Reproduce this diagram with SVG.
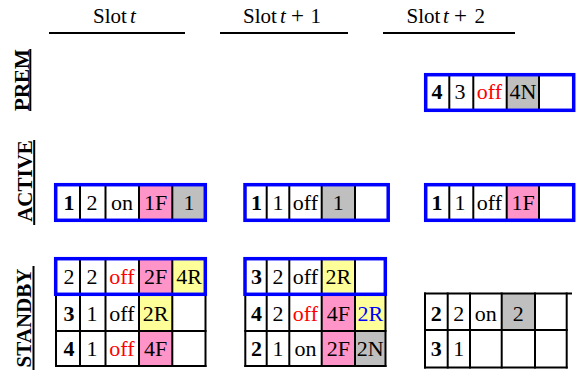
<svg xmlns="http://www.w3.org/2000/svg" width="581" height="370" viewBox="0 0 581 370">
<style>
text{font-family:"Liberation Serif","Times New Roman",serif;fill:#000}
.c{font-size:22px;text-anchor:middle}
.b{font-weight:bold}
.r{fill:#ff0000}
.bl{fill:#0000ff}
.h{font-size:21px}
.m{font-style:italic}
.lab{font-size:21px;font-weight:bold;text-anchor:middle}
.ul{stroke:#000;stroke-width:2}
.g{stroke:#000;stroke-width:2;fill:none}
.box{stroke:#0000ff;stroke-width:3.5;fill:none}
.pk{fill:#ff94c9}
.yl{fill:#ffff99}
.gy{fill:#bfbfbf}
</style>
<rect width="581" height="370" fill="#fff"/>
<g id="headers">
<text class="h" x="93" y="23">Slot<tspan class="m" x="130">t</tspan></text>
<line class="ul" x1="49" y1="33" x2="185" y2="33"/>
<text class="h" x="243" y="23">Slot<tspan class="m" x="280">t</tspan><tspan x="291" font-size="23">+</tspan><tspan x="310.5">1</tspan></text>
<line class="ul" x1="220" y1="33" x2="348" y2="33"/>
<text class="h" x="406.5" y="23">Slot<tspan class="m" x="443">t</tspan><tspan x="454" font-size="23">+</tspan><tspan x="474.5">2</tspan></text>
<line class="ul" x1="383" y1="33" x2="515" y2="33"/>
</g>
<g id="row-labels">
<text class="lab" transform="rotate(-90 28.5 80)" x="28.5" y="80">PREM</text>
<line class="ul" x1="30.3" y1="49" x2="30.3" y2="111"/>
<text class="lab" transform="rotate(-90 32 181)" x="32" y="181">ACTIVE</text>
<line class="ul" x1="34.2" y1="140" x2="34.2" y2="225"/>
<text class="lab" transform="rotate(-90 30.8 318)" x="30.8" y="318">STANDBY</text>
<line class="ul" x1="33.5" y1="266" x2="33.5" y2="370"/>
</g>
<g id="prem-t2">
<rect class="gy" x="506.7" y="75" width="32.3" height="35"/>
<line class="g" x1="449.3" y1="75" x2="449.3" y2="110"/>
<line class="g" x1="473.3" y1="75" x2="473.3" y2="110"/>
<line class="g" x1="506.7" y1="75" x2="506.7" y2="110"/>
<line class="g" x1="539" y1="75" x2="539" y2="110"/>
<rect class="box" x="425.7" y="74.7" width="148" height="35.6"/>
<text class="c b" x="437" y="99">4</text>
<text class="c" x="460" y="99">3</text>
<text class="c r" x="489.5" y="99">off</text>
<text class="c" x="523" y="99">4N</text>
</g>
<g id="active-t">
<rect class="pk" x="139" y="185" width="33.3" height="35"/>
<rect class="gy" x="172.3" y="185" width="33" height="35"/>
<line class="g" x1="80" y1="185" x2="80" y2="220"/>
<line class="g" x1="105.5" y1="185" x2="105.5" y2="220"/>
<line class="g" x1="139" y1="185" x2="139" y2="220"/>
<line class="g" x1="172.3" y1="185" x2="172.3" y2="220"/>
<rect class="box" x="55.7" y="184.7" width="149.6" height="35.6"/>
<text class="c b" x="69" y="210">1</text>
<text class="c" x="92" y="210">2</text>
<text class="c" x="122" y="210">on</text>
<text class="c" x="155.5" y="210">1F</text>
<text class="c" x="189" y="210">1</text>
</g>
<g id="active-t1">
<rect class="gy" x="321.7" y="185" width="33.3" height="35"/>
<line class="g" x1="266.7" y1="185" x2="266.7" y2="220"/>
<line class="g" x1="289.3" y1="185" x2="289.3" y2="220"/>
<line class="g" x1="321.7" y1="185" x2="321.7" y2="220"/>
<line class="g" x1="355" y1="185" x2="355" y2="220"/>
<rect class="box" x="245" y="184.7" width="143.2" height="35.6"/>
<text class="c b" x="256.5" y="210">1</text>
<text class="c" x="278" y="210">1</text>
<text class="c" x="305.5" y="210">off</text>
<text class="c" x="338.3" y="210">1</text>
</g>
<g id="active-t2">
<rect class="pk" x="506.7" y="185" width="32.3" height="35"/>
<line class="g" x1="449.3" y1="185" x2="449.3" y2="220"/>
<line class="g" x1="473.3" y1="185" x2="473.3" y2="220"/>
<line class="g" x1="506.7" y1="185" x2="506.7" y2="220"/>
<line class="g" x1="539" y1="185" x2="539" y2="220"/>
<rect class="box" x="425.7" y="184.7" width="148" height="35.6"/>
<text class="c b" x="437" y="210">1</text>
<text class="c" x="460" y="210">1</text>
<text class="c" x="489.5" y="210">off</text>
<text class="c" x="523" y="210">1F</text>
</g>
<g id="standby-t">
<rect class="pk" x="139" y="259" width="33.3" height="35"/>
<rect class="yl" x="172.3" y="259" width="33" height="35"/>
<rect class="yl" x="139" y="296" width="33.3" height="35"/>
<rect class="pk" x="139" y="331" width="33.3" height="35"/>
<line class="g" x1="56" y1="294" x2="56" y2="367"/>
<line class="g" x1="205.5" y1="294" x2="205.5" y2="367"/>
<line class="g" x1="55" y1="331" x2="206.5" y2="331"/>
<line class="g" x1="55" y1="366" x2="206.5" y2="366"/>
<line class="g" x1="80" y1="259" x2="80" y2="366"/>
<line class="g" x1="105.5" y1="259" x2="105.5" y2="366"/>
<line class="g" x1="139" y1="259" x2="139" y2="366"/>
<line class="g" x1="172.3" y1="259" x2="172.3" y2="366"/>
<rect class="box" x="55.7" y="258.7" width="149.6" height="35.6"/>
<text class="c" x="69" y="284">2</text>
<text class="c" x="92" y="284">2</text>
<text class="c r" x="122" y="284">off</text>
<text class="c" x="155.5" y="284">2F</text>
<text class="c" x="189" y="284">4R</text>
<text class="c b" x="69" y="320.5">3</text>
<text class="c" x="92" y="320.5">1</text>
<text class="c" x="122" y="320.5">off</text>
<text class="c" x="155.5" y="320.5">2R</text>
<text class="c b" x="69" y="356">4</text>
<text class="c" x="92" y="356">1</text>
<text class="c r" x="122" y="356">off</text>
<text class="c" x="155.5" y="356">4F</text>
</g>
<g id="standby-t1">
<rect class="yl" x="321.7" y="259" width="33.3" height="35"/>
<rect class="pk" x="321.7" y="296" width="33.3" height="35"/>
<rect class="yl" x="355" y="296" width="30.5" height="35"/>
<rect class="pk" x="321.7" y="331" width="33.3" height="35"/>
<rect class="gy" x="355" y="331" width="30.5" height="35"/>
<line class="g" x1="245.3" y1="294" x2="245.3" y2="367"/>
<line class="g" x1="385.5" y1="294" x2="385.5" y2="367"/>
<line class="g" x1="244.3" y1="331" x2="386.5" y2="331"/>
<line class="g" x1="244.3" y1="366" x2="386.5" y2="366"/>
<line class="g" x1="266.7" y1="259" x2="266.7" y2="366"/>
<line class="g" x1="289.3" y1="259" x2="289.3" y2="366"/>
<line class="g" x1="321.7" y1="259" x2="321.7" y2="366"/>
<line class="g" x1="355" y1="259" x2="355" y2="366"/>
<rect class="box" x="245" y="258.7" width="140.3" height="35.6"/>
<text class="c b" x="256.5" y="284">3</text>
<text class="c" x="278" y="284">2</text>
<text class="c" x="305.5" y="284">off</text>
<text class="c" x="338.3" y="284">2R</text>
<text class="c b" x="256.5" y="320.5">4</text>
<text class="c" x="278" y="320.5">2</text>
<text class="c r" x="305.5" y="320.5">off</text>
<text class="c" x="338.3" y="320.5">4F</text>
<text class="c bl" x="370.3" y="320.5">2R</text>
<text class="c b" x="256.5" y="356">2</text>
<text class="c" x="278" y="356">1</text>
<text class="c" x="305.5" y="356">on</text>
<text class="c" x="338.3" y="356">2F</text>
<text class="c" x="370.3" y="356">2N</text>
</g>
<g id="standby-t2">
<rect class="gy" x="501.7" y="294" width="33.3" height="36"/>
<line class="g" x1="424" y1="293.5" x2="572" y2="293.5"/>
<line class="g" x1="424" y1="330" x2="567.7" y2="330"/>
<line class="g" x1="424" y1="367.5" x2="567.7" y2="367.5"/>
<line class="g" x1="425" y1="292.5" x2="425" y2="368.5"/>
<line class="g" x1="447.7" y1="292.5" x2="447.7" y2="368.5"/>
<line class="g" x1="470" y1="292.5" x2="470" y2="368.5"/>
<line class="g" x1="501.7" y1="292.5" x2="501.7" y2="368.5"/>
<line class="g" x1="535" y1="292.5" x2="535" y2="368.5"/>
<line class="g" x1="566.7" y1="292.5" x2="566.7" y2="368.5"/>
<text class="c b" x="436.3" y="320.5">2</text>
<text class="c" x="458.8" y="320.5">2</text>
<text class="c" x="485.8" y="320.5">on</text>
<text class="c" x="518.3" y="320.5">2</text>
<text class="c b" x="436.3" y="356">3</text>
<text class="c" x="458.8" y="356">1</text>
</g>
</svg>
